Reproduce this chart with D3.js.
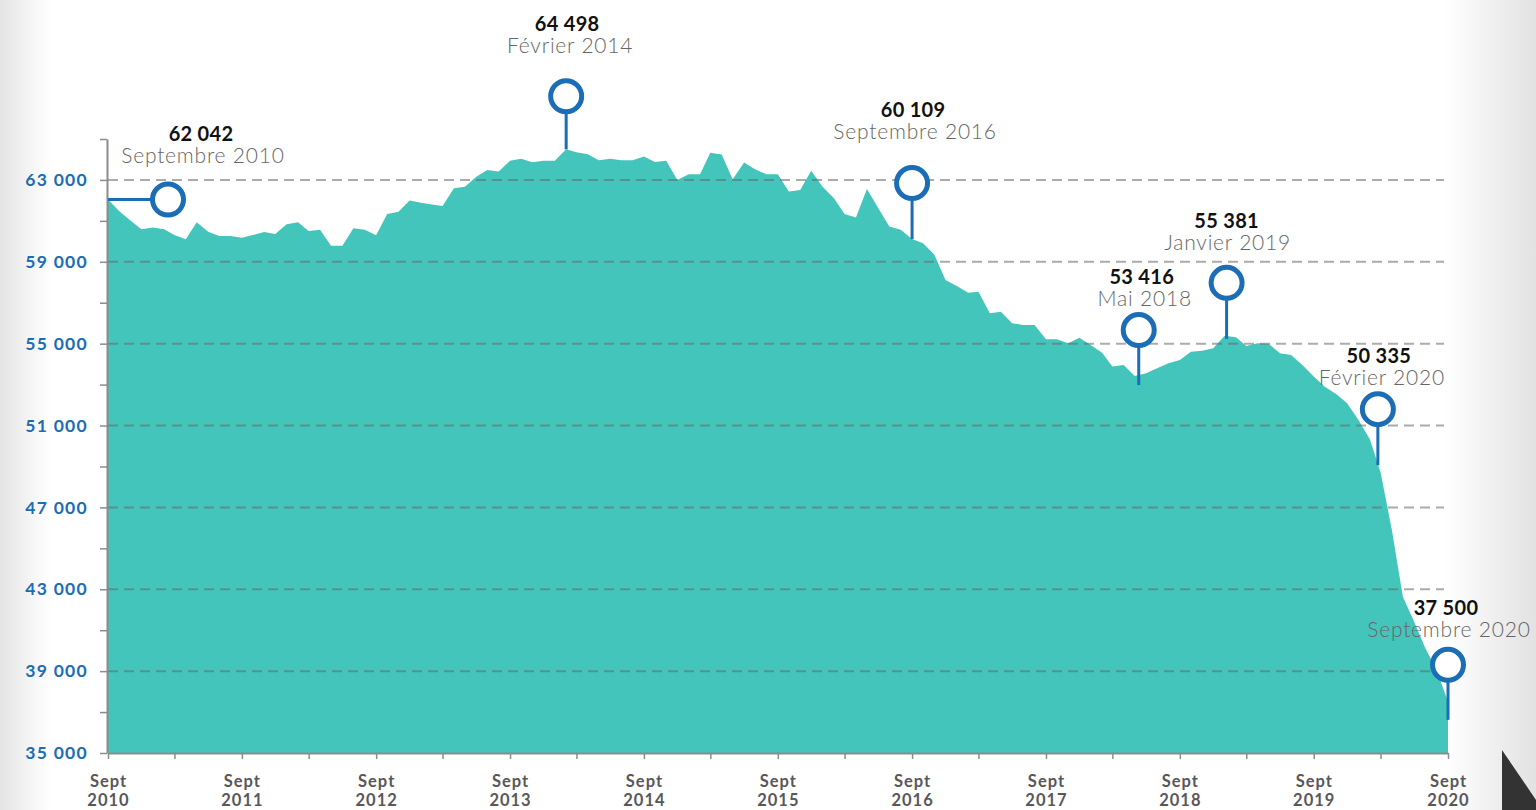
<!DOCTYPE html>
<html>
<head>
<meta charset="utf-8">
<script src="https://cdnjs.cloudflare.com/ajax/libs/d3/7.8.5/d3.min.js"></script>
<style>
  body { margin: 0; background: #fff; }
  #chart { width: 1536px; height: 810px; overflow: hidden; }
  text { font-family: Lato, "Open Sans", sans-serif; }
</style>
</head>
<body>
<div id="chart"></div>
<script>
// monthly series, Sept 2010 -> Sept 2020
var startMonth = "2010-09";
var jobs = [
  62042, 61480, 61020, 60590, 60670, 60590, 60310, 60100, 60930, 60470, 60260, 60260,
  60180, 60310, 60460, 60360, 60840, 60930, 60510, 60560, 59790, 59790, 60640, 60560,
  60300, 61340, 61450, 61990, 61880, 61800, 61730, 62590, 62670, 63160, 63490, 63410,
  63940, 64040, 63870, 63940, 63940, 64498, 64350, 64260, 63960, 64040, 63960, 63960,
  64140, 63880, 63940, 63000, 63280, 63280, 64330, 64240, 63030, 63850, 63520, 63280,
  63280, 62430, 62510, 63450, 62670, 62110, 61340, 61160, 62560, 61620, 60720, 60560,
  60109, 59910, 59340, 58110, 57820, 57490, 57540, 56490, 56560, 56000, 55910, 55910,
  55220, 55220, 55020, 55290, 54940, 54560, 53880, 53960, 53416, 53550, 53800, 54040,
  54200, 54610, 54660, 54780, 55381, 55310, 54890, 55020, 54990, 54530, 54450, 53960,
  53390, 52900, 52540, 52090, 51270, 50335, 48730, 45900, 42640, 41400, 40130, 39050,
  37500
];

var yTicks = [35000, 37000, 39000, 41000, 43000, 45000, 47000, 49000, 51000, 53000, 55000, 57000, 59000, 61000, 63000, 65000];
var yLabels = [35000, 39000, 43000, 47000, 51000, 55000, 59000, 63000];
var gridValues = [39000, 43000, 47000, 51000, 55000, 59000, 63000];
var xTickMonth = "Sept";

var pinMonths = ["2010-09", "2014-02", "2016-09", "2018-05", "2019-01", "2020-02", "2020-09"];
var pinValues = [62042, 64498, 60109, 53416, 55381, 50335, 37500];
var pinNames = ["Septembre 2010", "Février 2014", "Septembre 2016", "Mai 2018", "Janvier 2019", "Février 2020", "Septembre 2020"];

// pin layout (pixels)
var pinLayout = [
  {horiz: true, len: 60, ext: 0, dx: 0, vy: -59, dy: -37, vx: 33, tx: 35},
  {len: 53, ext: 0, dx: 0, vy: -65, dy: -43, vx: 1, tx: 4},
  {len: 56, ext: 0, dx: 0, vy: -66, dy: -44, vx: 1, tx: 3},
  {len: 46, ext: 9, dx: 4, vy: -46, dy: -24, vx: 3, tx: 6},
  {len: 53, ext: 3, dx: 2, vy: -55, dy: -33, vx: 0, tx: 1},
  {len: 30, ext: 26, dx: 8, vy: -46, dy: -24, vx: 1, tx: 4},
  {len: 37, ext: 18, dx: 0, vy: -50, dy: -28, vx: -2, tx: 1}
];

var width = 1536, height = 810;
var margin = {left: 108, right: 88, top: 139, bottom: 57};
var teal = "#44c5bc", blue = "#1b6db5";

var parseMonth = d3.timeParse("%Y-%m");
var start = parseMonth(startMonth);
var data = jobs.map(function (v, i) {
  return {date: d3.timeMonth.offset(start, i), value: v};
});
var end = data[data.length - 1].date;

var x = d3.scaleTime()
  .domain([start, end])
  .range([margin.left, width - margin.right]);
var y = d3.scaleLinear()
  .domain([35000, 65000])
  .range([height - margin.bottom, margin.top]);

var fr = d3.formatLocale({decimal: ",", thousands: " ", grouping: [3]});
var fmt = fr.format(",d");

var svg = d3.select("#chart")
  .append("svg")
  .attr("width", width)
  .attr("height", height);

var defs = svg.append("defs");
var gl = defs.append("linearGradient").attr("id", "gl").attr("x1", 0).attr("x2", 1);
gl.append("stop").attr("offset", 0).attr("stop-color", "#e4e4e4");
gl.append("stop").attr("offset", 1).attr("stop-color", "#fff");
var gr = defs.append("linearGradient").attr("id", "gr").attr("x1", 0).attr("x2", 1);
gr.append("stop").attr("offset", 0).attr("stop-color", "#fff");
gr.append("stop").attr("offset", 1).attr("stop-color", "#e2e2e2");

svg.append("rect").attr("x", 0).attr("y", 0).attr("width", 50).attr("height", height).attr("fill", "url(#gl)");
svg.append("rect").attr("x", 1445).attr("y", 0).attr("width", 91).attr("height", height).attr("fill", "url(#gr)");

// area
var area = d3.area()
  .x(function (d) { return x(d.date); })
  .y0(y(35000))
  .y1(function (d) { return y(d.value); });

svg.append("path")
  .datum(data)
  .attr("fill", teal)
  .attr("d", area);

// dashed grid
svg.append("g")
  .selectAll("line")
  .data(gridValues)
  .enter().append("line")
  .attr("x1", margin.left)
  .attr("x2", 1444)
  .attr("y1", function (d) { return y(d); })
  .attr("y2", function (d) { return y(d); })
  .attr("stroke", "#666")
  .attr("stroke-opacity", 0.55)
  .attr("stroke-width", 2)
  .attr("stroke-dasharray", "10,6");

// y axis
var yAxis = svg.append("g")
  .attr("transform", "translate(" + (margin.left - 1) + ",0)")
  .call(d3.axisLeft(y)
    .tickValues(yTicks)
    .tickSize(7)
    .tickSizeOuter(0)
    .tickPadding(12)
    .tickFormat(function (d) { return yLabels.indexOf(d) >= 0 ? fmt(d) : ""; }));

yAxis.select(".domain").attr("stroke", "#8c8c8c").attr("stroke-width", 2);
yAxis.selectAll(".tick line").attr("stroke", "#8c8c8c").attr("stroke-width", 1.5);
yAxis.selectAll(".tick text")
  .attr("fill", blue)
  .style("font-size", "17.5px")
  .style("font-weight", 700)
  .style("letter-spacing", "1.3px");

// x axis, a tick every 6 months from Sept 2010
var xTicks = d3.timeMonth.range(start, d3.timeMonth.offset(end, 1), 6);
var xAxis = svg.append("g")
  .attr("transform", "translate(0," + y(35000) + ")")
  .call(d3.axisBottom(x)
    .tickValues(xTicks)
    .tickSize(6)
    .tickSizeOuter(0)
    .tickFormat(""));

xAxis.select(".domain").attr("stroke", "#8c8c8c").attr("stroke-width", 2);
xAxis.selectAll(".tick line").attr("stroke", "#8c8c8c").attr("stroke-width", 1.5);

var sept = xAxis.selectAll(".tick")
  .filter(function (d) { return d.getMonth() === 8; });
sept.append("text")
  .attr("y", 34)
  .attr("text-anchor", "middle")
  .attr("fill", "#58585a")
  .style("font-size", "16.5px")
  .style("font-weight", 700)
  .style("letter-spacing", "1px")
  .text(xTickMonth);
sept.append("text")
  .attr("y", 52.5)
  .attr("text-anchor", "middle")
  .attr("fill", "#58585a")
  .style("font-size", "16.5px")
  .style("font-weight", 700)
  .style("letter-spacing", "1px")
  .text(function (d) { return d.getFullYear(); });

// pins
var pins = pinMonths.map(function (m, i) {
  var lay = pinLayout[i];
  var px = x(parseMonth(m)), py = y(pinValues[i]);
  var cx, cy;
  if (lay.horiz) { cx = px + lay.len; cy = py; }
  else { cx = px + lay.dx; cy = py - lay.len; }
  return {px: px, py: py, cx: cx, cy: cy, lay: lay, value: pinValues[i], name: pinNames[i]};
});

var r = 15.5;
var pin = svg.append("g")
  .selectAll("g")
  .data(pins)
  .enter().append("g");

pin.append("line")
  .attr("x1", function (d) { return d.lay.horiz ? d.px : d.cx; })
  .attr("y1", function (d) { return d.lay.horiz ? d.py : d.cy + r; })
  .attr("x2", function (d) { return d.lay.horiz ? d.cx - r : d.cx; })
  .attr("y2", function (d) { return d.lay.horiz ? d.py : d.py + d.lay.ext; })
  .attr("stroke", blue)
  .attr("stroke-width", 3);

pin.append("circle")
  .attr("cx", function (d) { return d.cx; })
  .attr("cy", function (d) { return d.cy; })
  .attr("r", r)
  .attr("fill", "#fff")
  .attr("stroke", blue)
  .attr("stroke-width", 5);

pin.append("text")
  .attr("x", function (d) { return d.cx + d.lay.vx; })
  .attr("y", function (d) { return d.cy + d.lay.vy; })
  .attr("text-anchor", "middle")
  .attr("fill", "#111")
  .style("font-size", "20px")
  .style("font-weight", 700)
  .style("letter-spacing", "0.3px")
  .text(function (d) { return fmt(d.value); });

pin.append("text")
  .attr("x", function (d) { return d.cx + d.lay.tx; })
  .attr("y", function (d) { return d.cy + d.lay.dy; })
  .attr("text-anchor", "middle")
  .attr("fill", "#666")
  .style("font-size", "21px")
  .style("font-weight", 300)
  .style("letter-spacing", "0.8px")
  .text(function (d) { return d.name; });

// corner mark
svg.append("polygon")
  .attr("points", "1502,750 1536,800 1536,810 1502,810")
  .attr("fill", "#333");
</script>
</body>
</html>
